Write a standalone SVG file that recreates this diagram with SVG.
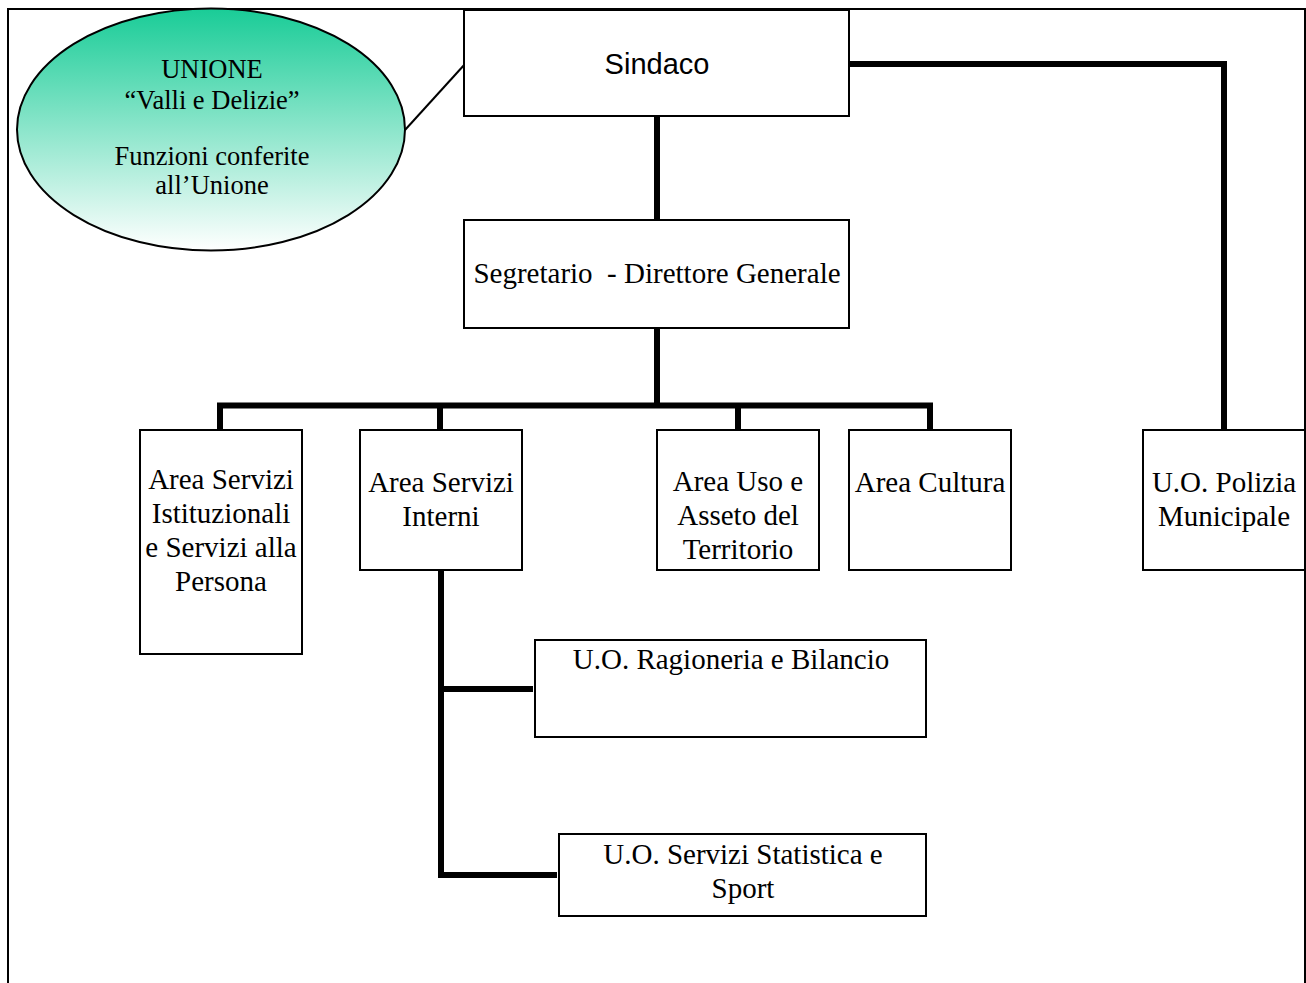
<svg xmlns="http://www.w3.org/2000/svg" width="1306" height="983" viewBox="0 0 1306 983">
<defs>
<linearGradient id="ell" x1="0" y1="0" x2="0" y2="1">
<stop offset="0" stop-color="#19CC97"/>
<stop offset="1" stop-color="#FFFFFF"/>
</linearGradient>
<style>
.box{fill:#fff;stroke:#000;stroke-width:2}
.t{font-family:"Liberation Serif","Times New Roman",serif;font-size:29px;fill:#000;text-anchor:middle}
.e{font-family:"Liberation Serif","Times New Roman",serif;font-size:26.5px;fill:#000;text-anchor:middle}
.s{font-family:"Liberation Sans",Arial,sans-serif;font-size:29px;fill:#000;text-anchor:middle}
.c{fill:none;stroke:#000;stroke-width:6}
</style>
</defs>
<rect width="1306" height="983" fill="#fff"/>
<path d="M8,990 V9 H1305 V990" fill="none" stroke="#000" stroke-width="2"/>
<g id="connectors">
<line x1="405" y1="130" x2="465" y2="64" stroke="#000" stroke-width="2"/>
<path class="c" d="M849,64 H1224 V430"/>
<path class="c" d="M657,116 V220"/>
<path class="c" d="M657,328 V405.5"/>
<path class="c" d="M220,430 V405.5 H930 V430"/>
<path class="c" d="M440,405.5 V430"/>
<path class="c" d="M738,405.5 V430"/>
<path class="c" d="M441,570 V875 H557"/>
<path class="c" d="M441,689 H533"/>
</g>
<g id="unione">
<ellipse cx="211" cy="129.5" rx="194" ry="121" fill="url(#ell)" stroke="#000" stroke-width="2"/>
<text class="e" x="212" y="78">UNIONE</text>
<text class="e" x="212" y="109">“Valli e Delizie”</text>
<text class="e" x="212" y="165">Funzioni conferite</text>
<text class="e" x="212" y="194">all’Unione</text>
</g>
<g id="sindaco">
<rect class="box" x="464" y="10" width="385" height="106"/>
<text class="s" x="657" y="74">Sindaco</text>
</g>
<g id="segretario">
<rect class="box" x="464" y="220" width="385" height="108"/>
<text class="t" x="657" y="283" xml:space="preserve">Segretario  - Direttore Generale</text>
</g>
<g id="area-istituzionali">
<rect class="box" x="140" y="430" width="162" height="224"/>
<text class="t" x="221" y="489">Area Servizi</text>
<text class="t" x="221" y="523">Istituzionali</text>
<text class="t" x="221" y="557">e Servizi alla</text>
<text class="t" x="221" y="591">Persona</text>
</g>
<g id="area-interni">
<rect class="box" x="360" y="430" width="162" height="140"/>
<text class="t" x="441" y="492">Area Servizi</text>
<text class="t" x="441" y="526">Interni</text>
</g>
<g id="area-uso">
<rect class="box" x="657" y="430" width="162" height="140"/>
<text class="t" x="738" y="491">Area Uso e</text>
<text class="t" x="738" y="525">Asseto del</text>
<text class="t" x="738" y="559">Territorio</text>
</g>
<g id="area-cultura">
<rect class="box" x="849" y="430" width="162" height="140"/>
<text class="t" x="930" y="492">Area Cultura</text>
</g>
<g id="polizia">
<rect class="box" x="1143" y="430" width="162" height="140"/>
<text class="t" x="1224" y="492">U.O. Polizia</text>
<text class="t" x="1224" y="526">Municipale</text>
</g>
<g id="ragioneria">
<rect class="box" x="535" y="640" width="391" height="97"/>
<text class="t" x="731" y="669">U.O. Ragioneria e Bilancio</text>
</g>
<g id="statistica">
<rect class="box" x="559" y="834" width="367" height="82"/>
<text class="t" x="743" y="864">U.O. Servizi Statistica e</text>
<text class="t" x="743" y="898">Sport</text>
</g>
</svg>
